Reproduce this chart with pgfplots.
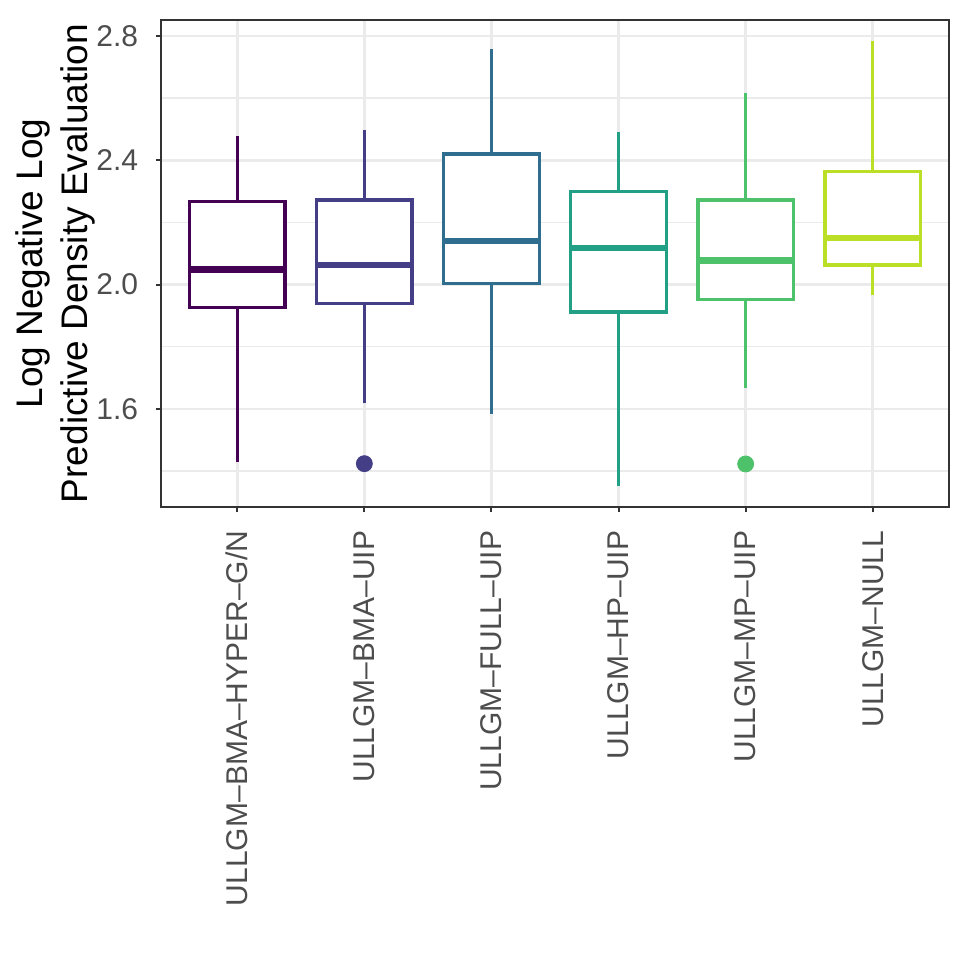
\documentclass[border=0pt]{standalone}
\usepackage{fontspec}
\setmainfont{Liberation Sans}
\usepackage{pgfplots}
\pgfplotsset{compat=1.18}
\definecolor{c1}{HTML}{440154}
\definecolor{c2}{HTML}{433E85}
\definecolor{c3}{HTML}{2F6E8E}
\definecolor{c4}{HTML}{21A086}
\definecolor{c5}{HTML}{4EC16B}
\definecolor{c6}{HTML}{BBDF27}
\definecolor{gridc}{HTML}{EBEBEB}
\definecolor{framec}{HTML}{333333}
\definecolor{tickc}{HTML}{4D4D4D}
% box: #1 colour, #2 position, #3 lower whisker, #4 q1, #5 median, #6 q3, #7 upper whisker
\newcommand{\ggbox}[7]{%
  \addplot[draw=#1, line width=1.6pt, forget plot] coordinates {(#2,#3) (#2,#4)};
  \addplot[draw=#1, line width=1.6pt, forget plot] coordinates {(#2,#6) (#2,#7)};
  \addplot[draw=#1, fill=white, line width=1.6pt, line join=miter, forget plot] coordinates {(#2-0.375,#4) (#2+0.375,#4) (#2+0.375,#6) (#2-0.375,#6)} -- cycle;
  \addplot[draw=#1, line width=3.2pt, forget plot] coordinates {(#2-0.375,#5) (#2+0.375,#5)};
}
\begin{document}
\begin{tikzpicture}
\useasboundingbox (0,0) rectangle (484.5pt,484.5pt);
\begin{axis}[
  at={(80.5pt,231pt)}, anchor=south west,
  width=394pt, height=243.5pt, scale only axis,
  xmin=0.4, xmax=6.6, ymin=1.2846, ymax=2.851,
  xtick={1,2,3,4,5,6},
  xticklabels={ULLGM–BMA–HYPER–G/N,ULLGM–BMA–UIP,ULLGM–FULL–UIP,ULLGM–HP–UIP,ULLGM–MP–UIP,ULLGM–NULL},
  ytick={1.6,2.0,2.4,2.8}, yticklabels={1.6,2.0,2.4,2.8},
  minor ytick={1.4,1.8,2.2,2.6},
  grid=both,
  major grid style={color=gridc, line width=1.3pt},
  minor grid style={color=gridc, line width=0.7pt},
  tick align=outside, tick pos=left,
  major tick length=2.75pt, minor tick length=0pt,
  tick style={color=framec, line width=1pt},
  axis line style={color=framec, line width=1pt},
  ticklabel style={font=\fontsize{15}{18}\selectfont, text=tickc, inner sep=0pt},
  xticklabel style={rotate=90, anchor=east},
  yticklabel style={anchor=east},
  xticklabel shift=9pt, yticklabel shift=8.5pt,
]
\ggbox{c1}{1}{1.428}{1.927}{2.048}{2.268}{2.479}
\ggbox{c2}{2}{1.618}{1.940}{2.063}{2.272}{2.498}
\ggbox{c3}{3}{1.584}{2.003}{2.141}{2.420}{2.757}
\ggbox{c4}{4}{1.352}{1.912}{2.117}{2.300}{2.492}
\ggbox{c5}{5}{1.666}{1.953}{2.077}{2.272}{2.617}
\ggbox{c6}{6}{1.966}{2.063}{2.149}{2.363}{2.785}
\addplot[only marks, mark=*, mark size=4pt, draw=c2, fill=c2, forget plot] coordinates {(2,1.424)};
\addplot[only marks, mark=*, mark size=4pt, draw=c5, fill=c5, forget plot] coordinates {(5,1.423)};
\end{axis}
\node[rotate=90, anchor=south, align=center, inner sep=0pt, font=\fontsize{18.5}{22.5}\selectfont] at (48pt,352.75pt) {Log Negative Log\\Predictive Density Evaluation};
\end{tikzpicture}
\end{document}
